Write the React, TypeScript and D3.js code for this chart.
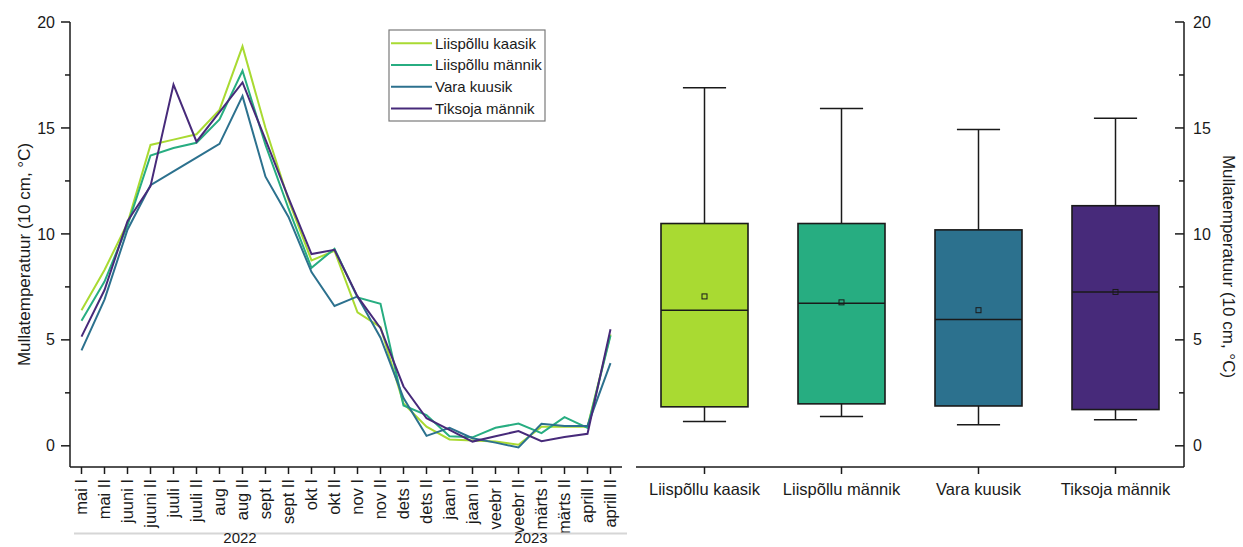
import React from "react";
import * as d3 from "d3";

// Half-month periods, May 2022 – April 2023
const periods = [
  "mai I", "mai II", "juuni I", "juuni II", "juuli I", "juuli II",
  "aug I", "aug II", "sept I", "sept II", "okt I", "okt II",
  "nov I", "nov II", "dets I", "dets II", "jaan I", "jaan II",
  "veebr I", "veebr II", "märts I", "märts II", "aprill I", "aprill II",
];

const sites = ["Liispõllu kaasik", "Liispõllu männik", "Vara kuusik", "Tiksoja männik"];
const siteColors = ["#a9da32", "#27ad81", "#2c718e", "#472a7a"];

// Mean soil temperature at 10 cm per half-month (°C)
const liispolluKaasik = [6.4, 8.3, 10.5, 14.2, 14.45, 14.7, 15.85, 18.85, 15.0, 11.6, 8.75, 9.2, 6.3, 5.6, 2.0, 0.9, 0.3, 0.25, 0.2, 0.05, 0.9, 0.9, 0.9, 5.25];
const liispolluMannik = [5.9, 7.75, 10.4, 13.7, 14.05, 14.3, 15.4, 17.7, 14.2, 11.2, 8.4, 9.3, 7.0, 6.7, 1.9, 1.45, 0.45, 0.4, 0.85, 1.05, 0.6, 1.35, 0.85, 5.2];
const varaKuusik = [4.5, 6.9, 10.2, 12.3, 12.95, 13.6, 14.25, 16.5, 12.7, 10.8, 8.2, 6.6, 7.05, 5.1, 2.25, 0.47, 0.85, 0.36, 0.15, -0.08, 1.04, 0.94, 0.94, 3.9];
const tiksojaMannik = [5.15, 7.35, 10.6, 12.25, 17.05, 14.35, 15.75, 17.15, 14.45, 11.7, 9.05, 9.25, 7.05, 5.55, 2.8, 1.3, 0.75, 0.2, 0.45, 0.7, 0.22, 0.42, 0.57, 5.5];
const seriesValues = [liispolluKaasik, liispolluMannik, varaKuusik, tiksojaMannik];

// Box-plot summary per site (°C)
const boxMin = [1.15, 1.38, 0.99, 1.23];
const boxQ1 = [1.84, 1.98, 1.88, 1.71];
const boxMedian = [6.4, 6.73, 5.96, 7.26];
const boxQ3 = [10.49, 10.49, 10.19, 11.33];
const boxMax = [16.9, 15.92, 14.93, 15.46];
const boxMean = [7.05, 6.77, 6.4, 7.26];

const majorTicks = [0, 5, 10, 15, 20];
const minorTicks = [2.5, 7.5, 12.5, 17.5];
const years = ["2022", "2023"];
const axisTitle = "Mullatemperatuur (10 cm, °C)";

const FONT = "'Liberation Sans', Arial, sans-serif";
const INK = "#1a1a1a";

export default function App() {
  const W = 1243;
  const H = 547;
  const top = 22;
  const bottom = 467;

  const y = d3.scaleLinear().domain([-1, 20]).range([bottom, top]);
  const xL = d3.scaleBand<string>().domain(periods).range([70, 622]);
  const xR = d3.scaleBand<string>().domain(sites).range([636, 1184]);

  const cx = (p: string) => (xL(p) ?? 0) + xL.bandwidth() / 2;
  const line = d3
    .line<number>()
    .x((_, i) => cx(periods[i]))
    .y((v) => y(v));

  const leftAxisX = xL.range()[0];
  const rightAxisX = xR.range()[1];
  const boxW = xR.bandwidth() * 0.635;
  const capW = xR.bandwidth() * 0.315;

  const legendRows = sites.map((s, i) => ({ s, c: siteColors[i], y: 43.3 + i * 21.7 }));

  return (
    <svg
      width={W}
      height={H}
      style={{ position: "absolute", left: 0, top: 0, background: "#fff" }}
      fontFamily={FONT}
    >
      <rect x={0} y={0} width={W} height={H} fill="#fff" />

      {/* ---------- left panel: time series ---------- */}
      {seriesValues.map((vals, i) => (
        <path
          key={sites[i]}
          d={line(vals) ?? ""}
          fill="none"
          stroke={siteColors[i]}
          strokeWidth={2}
          strokeLinejoin="miter"
        />
      ))}

      {/* y axis */}
      <line x1={leftAxisX} x2={leftAxisX} y1={top} y2={bottom} stroke={INK} strokeWidth={1.5} />
      {majorTicks.map((t) => (
        <g key={"lm" + t}>
          <line x1={leftAxisX - 9} x2={leftAxisX} y1={y(t)} y2={y(t)} stroke={INK} strokeWidth={1.5} />
          <text x={leftAxisX - 15} y={y(t)} dy="0.35em" textAnchor="end" fontSize={16} fill={INK}>
            {t}
          </text>
        </g>
      ))}
      {minorTicks.map((t) => (
        <line key={"ln" + t} x1={leftAxisX - 5} x2={leftAxisX} y1={y(t)} y2={y(t)} stroke={INK} strokeWidth={1.5} />
      ))}
      <text
        transform={`translate(30,${(top + bottom) / 2 + 10}) rotate(-90)`}
        textAnchor="middle"
        fontSize={17}
        fill={INK}
      >
        {axisTitle}
      </text>

      {/* x axis */}
      <line x1={leftAxisX} x2={xL.range()[1]} y1={bottom} y2={bottom} stroke={INK} strokeWidth={1.5} />
      {periods.map((p) => (
        <g key={p}>
          <line x1={cx(p)} x2={cx(p)} y1={bottom} y2={bottom + 7} stroke={INK} strokeWidth={1.5} />
          <text
            transform={`translate(${cx(p)},${bottom + 12}) rotate(-90)`}
            dy="0.35em"
            textAnchor="end"
            fontSize={16.5}
            fill={INK}
          >
            {p}
          </text>
        </g>
      ))}
      <line x1={74} x2={627} y1={533.5} y2={533.5} stroke="#d6d6d6" strokeWidth={2} />
      <text x={240} y={543} textAnchor="middle" fontSize={15} fill={INK}>{years[0]}</text>
      <text x={531} y={543} textAnchor="middle" fontSize={15} fill={INK}>{years[1]}</text>

      {/* legend */}
      <rect x={389} y={30} width={156} height={91} fill="#fff" stroke="#7a7a7a" strokeWidth={1.2} />
      {legendRows.map((r) => (
        <g key={"lg" + r.s}>
          <line x1={391} x2={432} y1={r.y} y2={r.y} stroke={r.c} strokeWidth={2} />
          <text x={435} y={r.y} dy="0.35em" fontSize={15} fill={INK}>
            {r.s}
          </text>
        </g>
      ))}

      {/* ---------- right panel: box plots ---------- */}
      {sites.map((s, i) => {
        const c = (xR(s) ?? 0) + xR.bandwidth() / 2;
        return (
          <g key={"bx" + s}>
            <line x1={c} x2={c} y1={y(boxQ3[i])} y2={y(boxMax[i])} stroke={INK} strokeWidth={1.5} />
            <line x1={c} x2={c} y1={y(boxQ1[i])} y2={y(boxMin[i])} stroke={INK} strokeWidth={1.5} />
            <line x1={c - capW / 2} x2={c + capW / 2} y1={y(boxMax[i])} y2={y(boxMax[i])} stroke={INK} strokeWidth={1.5} />
            <line x1={c - capW / 2} x2={c + capW / 2} y1={y(boxMin[i])} y2={y(boxMin[i])} stroke={INK} strokeWidth={1.5} />
            <rect
              x={c - boxW / 2}
              y={y(boxQ3[i])}
              width={boxW}
              height={y(boxQ1[i]) - y(boxQ3[i])}
              fill={siteColors[i]}
              stroke={INK}
              strokeWidth={1.6}
            />
            <line x1={c - boxW / 2} x2={c + boxW / 2} y1={y(boxMedian[i])} y2={y(boxMedian[i])} stroke={INK} strokeWidth={1.6} />
            <rect x={c - 2.5} y={y(boxMean[i]) - 2.5} width={5} height={5} fill="none" stroke={INK} strokeWidth={1} />
            <line x1={c} x2={c} y1={bottom} y2={bottom + 7} stroke={INK} strokeWidth={1.5} />
            <text x={c} y={495} textAnchor="middle" fontSize={16.5} fill={INK}>
              {s}
            </text>
          </g>
        );
      })}

      {/* bottom and right axes */}
      <line x1={xR.range()[0]} x2={rightAxisX} y1={bottom} y2={bottom} stroke={INK} strokeWidth={1.5} />
      <line x1={rightAxisX} x2={rightAxisX} y1={top} y2={bottom} stroke={INK} strokeWidth={1.5} />
      {majorTicks.map((t) => (
        <g key={"rm" + t}>
          <line x1={rightAxisX - 9} x2={rightAxisX} y1={y(t)} y2={y(t)} stroke={INK} strokeWidth={1.5} />
          <text x={rightAxisX + 9} y={y(t)} dy="0.35em" textAnchor="start" fontSize={16} fill={INK}>
            {t}
          </text>
        </g>
      ))}
      {minorTicks.map((t) => (
        <line key={"rn" + t} x1={rightAxisX - 5} x2={rightAxisX} y1={y(t)} y2={y(t)} stroke={INK} strokeWidth={1.5} />
      ))}
      <text
        transform={`translate(1223,${(top + bottom) / 2 + 22}) rotate(90)`}
        textAnchor="middle"
        fontSize={17}
        fill={INK}
      >
        {axisTitle}
      </text>
    </svg>
  );
}
